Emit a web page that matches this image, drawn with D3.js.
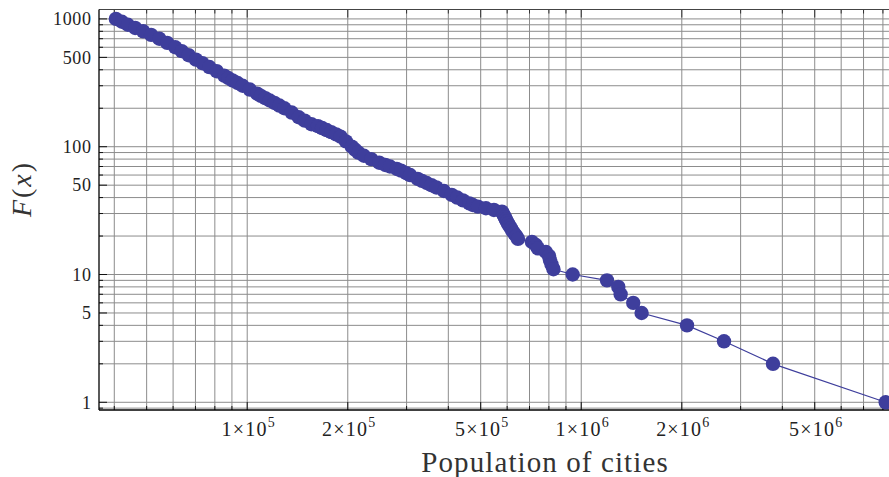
<!DOCTYPE html>
<html>
<head>
<meta charset="utf-8">
<script src="https://cdn.jsdelivr.net/npm/d3@7"></script>
<style>
  body { margin: 0; background: #fff; }
  svg { display: block; }
  text { font-family: "Liberation Serif", "Times New Roman", serif; fill: #222; }
</style>
</head>
<body>
<svg id="canvas" width="889" height="477"></svg>
<script>
// cities ranked by size: F(x) = rank, x = population
const rank = [1000, 950, 900, 850, 800, 750, 700, 650, 600, 560, 520, 480, 450, 420, 390, 360, 345, 330, 315, 300,
  280, 260, 250, 240, 230, 220, 210, 200, 185, 170, 160, 150, 145, 140, 135, 130, 125, 120, 110, 100,
  95, 90, 85, 80, 75, 72, 70, 67, 65, 62, 60, 56, 54, 52, 50, 48, 45, 42, 40, 38,
  36, 35, 34, 33, 32, 31, 30, 29, 28, 27, 26, 25, 24, 23, 22, 21, 20, 19, 18, 17,
  16, 15, 14, 13, 12, 11, 10, 9, 8, 7, 6, 5, 4, 3, 2, 1];
const population = [40450, 42150, 43930, 46200, 48820, 51560, 54550, 57620, 60880, 63680, 66780, 70260, 73480, 77050, 81030, 85320, 87740, 90360, 93540, 96880,
  101800, 107130, 109900, 113300, 116800, 120700, 124800, 129200, 135900, 142640, 148680, 155680, 162800, 167600, 172900, 178440, 184600, 190350, 197450, 205660,
  210110, 215060, 223540, 235100, 248400, 259100, 267500, 280500, 288900, 299500, 307400, 324000, 333600, 344500, 356100, 368300, 388100, 409600, 425100, 442500,
  462400, 473600, 490600, 518400, 547800, 578900, 582500, 586600, 590600, 594700, 598700, 604100, 609600, 615900, 621900, 629700, 639000, 646500, 711800, 731700,
  741900, 784000, 800500, 806000, 814400, 825700, 942600, 1194000, 1291000, 1312000, 1431000, 1516000, 2073000, 2675000, 3750000, 8154000];

const xTicks = [1e5, 2e5, 5e5, 1e6, 2e6, 5e6];
const xTickMantissa = ['1', '2', '5', '1', '2', '5'];
const xTickExponent = ['5', '5', '5', '6', '6', '6'];
const yTicks = [1, 5, 10, 50, 100, 500, 1000];

const xLabel = 'Population of cities';
const yLabel = 'F(x)';

const plotLeft = 99, plotRight = 900, plotTop = 9.5, plotBottom = 410;
const markColor = '#3e3e9c';
const gridColor = '#8c8c8c';

let canvas = d3.select('#canvas');

const x = d3.scaleLog().domain([36000, 9e6]).range([plotLeft, plotRight]);
const y = d3.scaleLog().domain([0.8703, 1185]).range([plotBottom, plotTop]);

let data = rank.map((r, i) => ({ pop: population[i], rank: r }));

let drawGrid = () => {
  canvas.append('g').selectAll('line')
    .data(x.ticks())
    .enter()
    .append('line')
    .attr('x1', d => x(d)).attr('x2', d => x(d))
    .attr('y1', plotTop).attr('y2', plotBottom)
    .attr('stroke', gridColor)
    .attr('stroke-width', 1);

  canvas.append('g').selectAll('line')
    .data(y.ticks())
    .enter()
    .append('line')
    .attr('x1', plotLeft).attr('x2', plotRight)
    .attr('y1', d => y(d)).attr('y2', d => y(d))
    .attr('stroke', gridColor)
    .attr('stroke-width', 1);
}

let drawFrame = () => {
  // ticks pointing inwards, long ones on labelled values
  canvas.append('g').selectAll('line')
    .data(y.ticks())
    .enter()
    .append('line')
    .attr('x1', plotLeft)
    .attr('x2', d => plotLeft + (yTicks.includes(d) ? 8 : 4))
    .attr('y1', d => y(d)).attr('y2', d => y(d))
    .attr('stroke', '#111')
    .attr('stroke-width', 1);

  const xt = canvas.append('g');
  xt.selectAll('line.b')
    .data(x.ticks())
    .enter()
    .append('line')
    .attr('class', 'b')
    .attr('x1', d => x(d)).attr('x2', d => x(d))
    .attr('y1', plotBottom)
    .attr('y2', d => plotBottom - (xTicks.includes(d) ? 8 : 4))
    .attr('stroke', '#111');
  xt.selectAll('line.t')
    .data(x.ticks())
    .enter()
    .append('line')
    .attr('class', 't')
    .attr('x1', d => x(d)).attr('x2', d => x(d))
    .attr('y1', plotTop)
    .attr('y2', d => plotTop + (xTicks.includes(d) ? 8 : 4))
    .attr('stroke', '#333');

  canvas.append('line')
    .attr('x1', plotLeft).attr('x2', plotRight + 10)
    .attr('y1', plotTop).attr('y2', plotTop)
    .attr('stroke', '#444').attr('stroke-width', 1);
  canvas.append('line')
    .attr('x1', plotLeft).attr('x2', plotRight + 10)
    .attr('y1', plotBottom).attr('y2', plotBottom)
    .attr('stroke', '#000').attr('stroke-width', 1.3);
  canvas.append('line')
    .attr('x1', plotLeft).attr('x2', plotLeft)
    .attr('y1', plotTop).attr('y2', plotBottom)
    .attr('stroke', '#000').attr('stroke-width', 1.3);
}

let drawLabels = () => {
  canvas.append('g').selectAll('text')
    .data(yTicks)
    .enter()
    .append('text')
    .attr('x', 91.5)
    .attr('y', d => y(d))
    .attr('dy', '0.35em')
    .attr('text-anchor', 'end')
    .style('font-size', '18px')
    .style('letter-spacing', '0.6px')
    .text(d => d);

  const xl = canvas.append('g').selectAll('text')
    .data(xTicks)
    .enter()
    .append('text')
    .attr('x', d => x(d) + 1.5)
    .attr('y', 436)
    .attr('text-anchor', 'middle')
    .style('font-size', '20px')
    .style('letter-spacing', '1.2px');
  xl.append('tspan').text((d, i) => xTickMantissa[i] + '\u00d710');
  xl.append('tspan')
    .attr('dy', -9)
    .style('font-size', '14px')
    .text((d, i) => xTickExponent[i]);

  canvas.append('text')
    .attr('x', 545)
    .attr('y', 471.5)
    .attr('text-anchor', 'middle')
    .style('font-size', '29px')
    .style('letter-spacing', '1.1px')
    .style('fill', '#333')
    .text(xLabel);

  const yl = canvas.append('text')
    .attr('transform', 'translate(31,189) rotate(-90)')
    .attr('text-anchor', 'middle')
    .style('font-size', '28px')
    .style('letter-spacing', '2px')
    .style('fill', '#333');
  yl.append('tspan').style('font-style', 'italic').text(yLabel[0]);
  yl.append('tspan').text(yLabel[1]);
  yl.append('tspan').style('font-style', 'italic').text(yLabel[2]);
  yl.append('tspan').text(yLabel[3]);
}

let drawData = () => {
  canvas.append('path')
    .datum(data)
    .attr('d', d3.line().x(d => x(d.pop)).y(d => y(d.rank)))
    .attr('fill', 'none')
    .attr('stroke', markColor)
    .attr('stroke-width', 1.2);

  canvas.append('g').selectAll('circle')
    .data(data)
    .enter()
    .append('circle')
    .attr('cx', d => x(d.pop))
    .attr('cy', d => y(d.rank))
    .attr('r', 7.2)
    .attr('fill', markColor);
}

drawGrid();
drawFrame();
drawData();
drawLabels();
</script>
</body>
</html>
